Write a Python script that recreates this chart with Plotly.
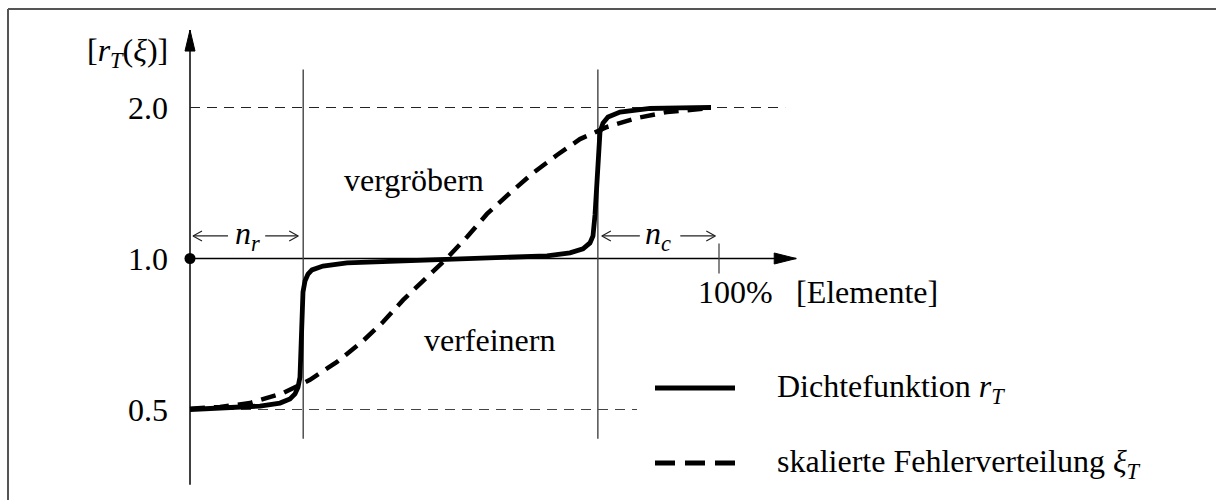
import numpy as np
import plotly.graph_objects as go

# Dichtefunktion r_T over the share of elements (sorted), in percent
dichte_x = [0, 7.56, 13.23, 17.01, 18.90, 19.85, 20.42, 20.79, 20.98, 21.17, 21.36,
            21.74, 22.31, 23.06, 25.14, 29.68, 42.16, 54.82, 67.49, 71.83, 74.29,
            75.61, 76.18, 76.56, 76.94, 77.22, 77.50, 78.07, 79.02, 81.29, 86.96,
            92.63, 98.49]
dichte_r = [0.500, 0.503, 0.508, 0.515, 0.525, 0.537, 0.554, 0.580, 0.657, 0.764, 0.857,
            0.902, 0.931, 0.949, 0.966, 0.980, 0.991, 0.998, 1.012, 1.026, 1.045,
            1.074, 1.109, 1.221, 1.434, 1.684, 1.787, 1.862, 1.914, 1.959, 1.991,
            1.996, 2.000]

# skalierte Fehlerverteilung xi_T
fehler_x = [0, 5.67, 11.34, 17.58, 22.68, 27.79, 32.70, 36.48, 40.26, 44.80, 48.58,
            52.36, 56.14, 60.49, 64.84, 69.38, 73.72, 78.83, 84.50, 90.17, 95.84, 98.49]
fehler_xi = [0.502, 0.506, 0.515, 0.539, 0.573, 0.622, 0.685, 0.747, 0.826, 0.915, 1.002,
             1.104, 1.227, 1.351, 1.481, 1.608, 1.730, 1.829, 1.906, 1.959, 1.986, 1.995]

# thresholds: share refined (n_r) and share coarsened (starts at 100 - n_c)
n_r_pct = 21.4
n_c_start_pct = 77.1

tick_vals = [0.5, 1.0, 2.0]
tick_text = ["0.5", "1.0", "2.0"]

# ---- canvas / scale setup --------------------------------------------------
W, H = 1216, 500
X0_PX = 190          # pixel column of 0 %
PX_PER_PCT = 5.29    # horizontal pixels per percent
Y1_PX = 258.5        # pixel row of r = 1
PX_PER_OCT = 151     # vertical pixels per doubling
L2 = np.log10(2)

x_range = [-X0_PX / PX_PER_PCT, (W - X0_PX) / PX_PER_PCT]
y_range = [-L2 * (H - Y1_PX) / PX_PER_OCT, L2 * Y1_PX / PX_PER_OCT]


def dx(px):
    """horizontal pixel length -> percent"""
    return px / PX_PER_PCT


def fy(val, px):
    """value shifted upward by px pixels on the log axis"""
    return val * 2 ** (px / PX_PER_OCT)


FONT = "Liberation Serif, Times New Roman, serif"
FS = 32
INK = "#000000"
GRID = "#444444"

fig = go.Figure()


def line(xs, ys, color=INK, width=1.3, dash=None, fill=None):
    fig.add_trace(go.Scatter(
        x=xs, y=ys, mode="lines", hoverinfo="skip",
        line=dict(color=color, width=width, dash=dash),
        fill=fill, fillcolor=color if fill else None))


# axes extents
y_axis_lo, y_axis_hi = 0.354, 2.854
x_axis_hi = 114.6
guide_lo, guide_hi = 0.437, 2.38

# y axis with filled arrow head
line([0, 0], [y_axis_lo, y_axis_hi], width=1.5)
head_len, head_half = 21, 5
line([-dx(head_half), dx(head_half), 0, -dx(head_half)],
     [fy(y_axis_hi, -head_len), fy(y_axis_hi, -head_len), y_axis_hi, fy(y_axis_hi, -head_len)],
     width=1, fill="toself")

# x axis at r = 1 with filled arrow head
line([0, x_axis_hi], [1, 1], width=1.3)
line([x_axis_hi - dx(22), x_axis_hi - dx(22), x_axis_hi, x_axis_hi - dx(22)],
     [fy(1, 5.5), fy(1, -5.5), 1, fy(1, 5.5)], width=1, fill="toself")

# 100 % tick
line([100, 100], [fy(1, 15), fy(1, -15)], color=GRID, width=1.3)

# dashed reference levels 2.0 and 0.5
line([0, 112.5], [2.0, 2.0], color="#222222", width=1.2, dash="10px,7px")
line([0, 84.5], [0.5, 0.5], color="#444444", width=1.2, dash="10px,7px")

# vertical separators for n_r and n_c
for xv in (n_r_pct, n_c_start_pct):
    line([xv, xv], [guide_lo, guide_hi], color=GRID, width=1.4)

# n_r / n_c spans: thin arrows with open heads
span_val = 1.109


def arrow(head_x, tail_x):
    sgn = 1 if tail_x > head_x else -1
    line([tail_x, head_x], [span_val, span_val], color="#222222", width=1.2)
    line([head_x + sgn * dx(9), head_x, head_x + sgn * dx(9)],
         [fy(span_val, 5), span_val, fy(span_val, -5)], color="#222222", width=1.2)


arrow(dx(3), dx(38))
arrow(n_r_pct - dx(5), n_r_pct - dx(38))
arrow(n_c_start_pct + dx(4), n_c_start_pct + dx(42))
arrow(99.3, 99.3 - dx(35))

# curves
line(fehler_x, fehler_xi, width=4.5, dash="15px,9px")
line(dichte_x, dichte_r, width=4.8)

# origin dot at r = 1
fig.add_trace(go.Scatter(x=[0], y=[1], mode="markers", hoverinfo="skip",
                         marker=dict(color=INK, size=11)))

annotations = []


def text(x, y, s, xanchor="center", xref="x", yref="y", size=FS):
    annotations.append(dict(x=x, y=y, xref=xref, yref=yref, text=s, showarrow=False,
                            xanchor=xanchor, yanchor="middle",
                            font=dict(family=FONT, size=size, color=INK)))


# y tick labels and axis title
for v, t in zip(tick_vals, tick_text):
    text(-dx(20), np.log10(v), t, xanchor="right")
text(-dx(20), np.log10(2.58), "[<i>r</i><sub><i>T</i></sub>(<i>ξ</i>)]", xanchor="right")

# region labels
text(42.3, np.log10(1.434), "vergröbern")
text(56.7, np.log10(0.688), "verfeinern")

# x axis labels
text(103.2, np.log10(0.857), "100%")
text(128.0, np.log10(0.857), "[Elemente]")

# span labels
text(n_r_pct / 2 + dx(1), np.log10(span_val), "<i>n</i><sub><i>r</i></sub>")
text((n_c_start_pct + 100) / 2, np.log10(span_val), "<i>n</i><sub><i>c</i></sub>")

# legend (drawn by hand)
leg_x0, leg_x1 = 655 / W, 735 / W
leg_y1, leg_y2 = 1 - 388 / H, 1 - 463 / H
shapes = [
    dict(type="line", xref="paper", yref="paper", x0=leg_x0, x1=leg_x1, y0=leg_y1, y1=leg_y1,
         line=dict(color=INK, width=5)),
    dict(type="line", xref="paper", yref="paper", x0=leg_x0, x1=leg_x1, y0=leg_y2, y1=leg_y2,
         line=dict(color=INK, width=5, dash="20px,10px")),
    # frame
    dict(type="line", xref="paper", yref="paper", x0=8 / W, x1=8 / W, y0=-0.02, y1=1 - 9 / H,
         line=dict(color="#555555", width=2)),
    dict(type="line", xref="paper", yref="paper", x0=8 / W, x1=1.02, y0=1 - 9 / H, y1=1 - 9 / H,
         line=dict(color="#555555", width=2)),
]
text(775 / W, leg_y1, "Dichtefunktion <i>r</i><sub><i>T</i></sub>", xanchor="left",
     xref="paper", yref="paper")
text(775 / W, leg_y2, "skalierte Fehlerverteilung <i>ξ</i><sub><i>T</i></sub>", xanchor="left",
     xref="paper", yref="paper")

fig.update_layout(
    width=W, height=H,
    margin=dict(l=0, r=0, t=0, b=0),
    paper_bgcolor="white", plot_bgcolor="white",
    showlegend=False,
    xaxis=dict(range=x_range, visible=False, fixedrange=True),
    yaxis=dict(type="log", range=y_range, visible=False, fixedrange=True),
    annotations=annotations,
    shapes=shapes,
)

fig.write_html("out.html")
